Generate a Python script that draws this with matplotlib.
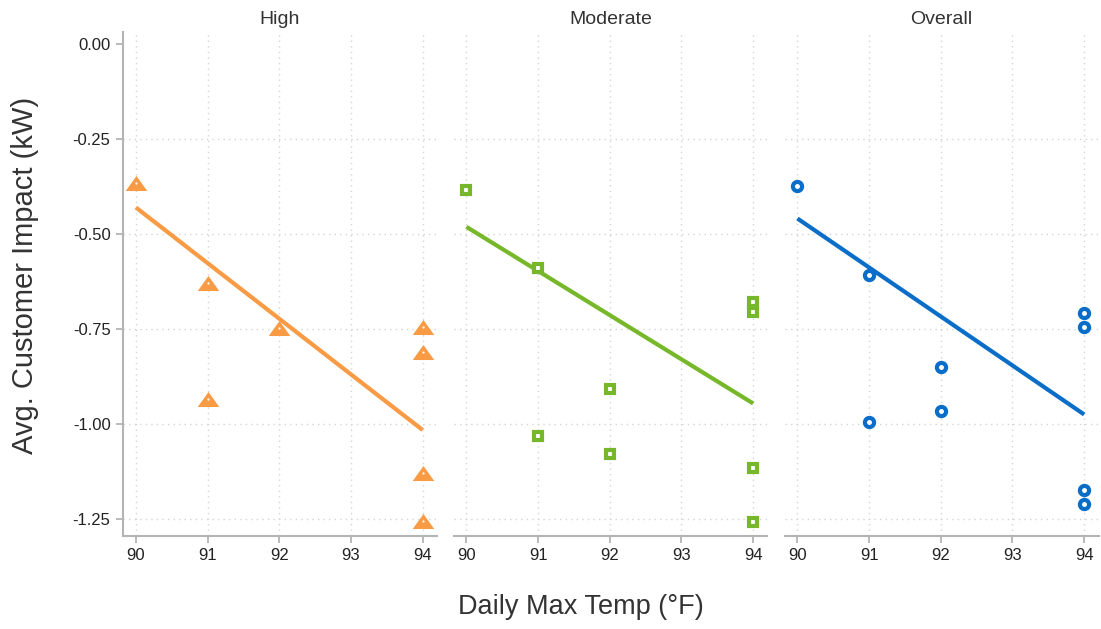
import numpy as np
import matplotlib.pyplot as plt

plt.rcParams['font.family'] = ['Liberation Sans', 'DejaVu Sans']

# scatter values per group (temp, impact in kW)
high_temp = [90, 91, 91, 92, 94, 94, 94, 94]
high_kw = [-0.366, -0.630, -0.934, -0.747, -0.745, -0.810, -1.130, -1.255]

mod_temp = [90, 91, 91, 92, 92, 94, 94, 94, 94]
mod_kw = [-0.384, -0.590, -1.033, -0.909, -1.080, -0.678, -0.706, -1.117, -1.257]

all_temp = [90, 91, 91, 92, 92, 94, 94, 94, 94]
all_kw = [-0.374, -0.608, -0.994, -0.849, -0.966, -0.707, -0.746, -1.174, -1.211]

# fitted line end points at 90 and 94 F
fit_temp = [90, 94]
high_fit = [-0.430, -1.016]
mod_fit = [-0.481, -0.946]
all_fit = [-0.459, -0.975]

panel_titles = ['High', 'Moderate', 'Overall']
xticks = [90, 91, 92, 93, 94]
yticks = [0.00, -0.25, -0.50, -0.75, -1.00, -1.25]

orange = '#F99B45'
green = '#76B82A'
blue = '#0A6EC8'
axis_grey = '#b4b4b4'

W, H = 1101, 629
fig = plt.figure(figsize=(W / 100, H / 100), dpi=100)

lefts = [123, 453.5, 784.5]
width = 314
top, bottom = 32, 536

tri = [(-1, -0.7), (1, -0.7), (0, 0.7)]

panels = [
    (high_temp, high_kw, high_fit, orange, 'tri'),
    (mod_temp, mod_kw, mod_fit, green, 's'),
    (all_temp, all_kw, all_fit, blue, 'o'),
]

for i, (xs, ys, fit, col, mk) in enumerate(panels):
    ax = fig.add_axes([lefts[i] / W, 1 - bottom / H, width / W, (bottom - top) / H])
    ax.set_xlim(89.82, 94.2)
    ax.set_ylim(-1.295, 0.032)

    # dotted grid
    for xv in xticks:
        ax.axvline(xv, color='#d4d4d4', lw=1, ls=(0, (1, 3)), zorder=0)
    for yv in yticks[1:]:
        ax.axhline(yv, color='#d4d4d4', lw=1, ls=(0, (1, 3)), zorder=0)

    ax.plot(fit_temp, fit, color=col, lw=3, solid_capstyle='butt', zorder=2)

    if mk == 'tri':
        ax.plot(xs, ys, ls='none', marker=tri, ms=15.5, color=col, mew=0, zorder=3)
        ax.plot(xs, ys, ls='none', marker='o', ms=1.6, color='white', mew=0, zorder=4)
    else:
        size = 6.0 if mk == 's' else 6.6
        ax.plot(xs, ys, ls='none', marker=mk, ms=size, mfc='white', mec=col,
                mew=3.0, zorder=3)

    for s in ['top', 'right']:
        ax.spines[s].set_visible(False)
    ax.spines['bottom'].set_color(axis_grey)
    ax.spines['bottom'].set_linewidth(1.5)
    ax.set_xticks(xticks)
    ax.tick_params(axis='x', colors=axis_grey, labelcolor='#222222', length=5,
                   width=1.3, labelsize=12, pad=4)
    if i == 0:
        ax.spines['left'].set_color(axis_grey)
        ax.spines['left'].set_linewidth(1.5)
        ax.set_yticks(yticks)
        ax.set_yticklabels(['%.2f' % v for v in yticks])
        ax.tick_params(axis='y', colors=axis_grey, labelcolor='#222222', length=5,
                       width=1.3, labelsize=12, pad=4)
    else:
        ax.spines['left'].set_visible(False)
        ax.set_yticks([])
    ax.set_title(panel_titles[i], fontsize=14, color='#333333', pad=6)

fig.text(25 / W, 1 - 275 / H, 'Avg. Customer Impact (kW)', rotation=90,
         ha='center', va='center', fontsize=21, color='#333333')
fig.text(581 / W, 1 - 607 / H, 'Daily Max Temp (°F)', ha='center', va='center',
         fontsize=19.5, color='#333333')

fig.savefig('out.png', dpi=100, facecolor='white')
